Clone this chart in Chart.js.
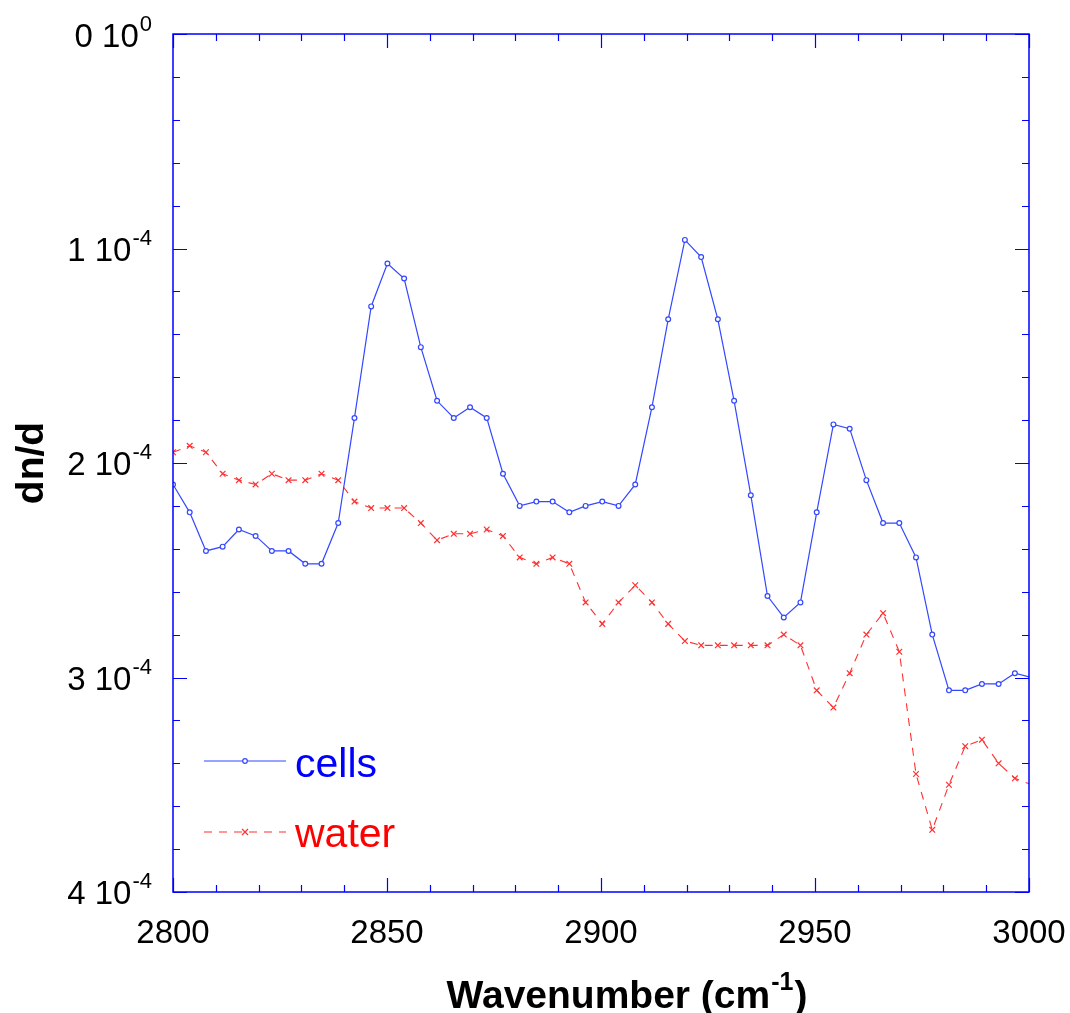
<!DOCTYPE html>
<html>
<head>
<meta charset="utf-8">
<script src="https://cdn.jsdelivr.net/npm/chart.js@4.4.1/dist/chart.umd.min.js"></script>
<style>
  html, body { margin: 0; padding: 0; background: #fff; }
  #graph { display: block; }
</style>
</head>
<body>
<canvas id="graph" width="1070" height="1013"></canvas>
<script>
// wavenumber (cm-1) of each sample
const wavenumbers = [2800.0, 2803.9, 2807.7, 2811.6, 2815.4, 2819.3, 2823.1, 2827.0, 2830.9, 2834.7,
  2838.6, 2842.4, 2846.3, 2850.1, 2854.0, 2857.9, 2861.7, 2865.6, 2869.4, 2873.3,
  2877.1, 2881.0, 2884.9, 2888.7, 2892.6, 2896.4, 2900.3, 2904.1, 2908.0, 2911.9,
  2915.7, 2919.6, 2923.4, 2927.3, 2931.1, 2935.0, 2938.9, 2942.7, 2946.6, 2950.4,
  2954.3, 2958.1, 2962.0, 2965.9, 2969.7, 2973.6, 2977.4, 2981.3, 2985.1, 2989.0,
  2992.9, 2996.7, 3000.6];

// dn/d values, in units of 1e-4
const cells = [2.10, 2.23, 2.41, 2.39, 2.31, 2.34, 2.41, 2.41, 2.47, 2.47,
  2.28, 1.79, 1.27, 1.07, 1.14, 1.46, 1.71, 1.79, 1.74, 1.79,
  2.05, 2.20, 2.18, 2.18, 2.23, 2.20, 2.18, 2.20, 2.10, 1.74,
  1.33, 0.96, 1.04, 1.33, 1.71, 2.15, 2.62, 2.72, 2.65, 2.23,
  1.82, 1.84, 2.08, 2.28, 2.28, 2.44, 2.80, 3.06, 3.06, 3.03,
  3.03, 2.98, 3.00];

const water = [1.95, 1.92, 1.95, 2.05, 2.08, 2.10, 2.05, 2.08, 2.08, 2.05,
  2.08, 2.18, 2.21, 2.21, 2.21, 2.28, 2.36, 2.33, 2.33, 2.31,
  2.34, 2.44, 2.47, 2.44, 2.47, 2.65, 2.75, 2.65, 2.57, 2.65,
  2.75, 2.83, 2.85, 2.85, 2.85, 2.85, 2.85, 2.80, 2.85, 3.06,
  3.14, 2.98, 2.80, 2.70, 2.88, 3.45, 3.71, 3.50, 3.32, 3.29,
  3.40, 3.47, 3.50];

const xTicks = [2800, 2850, 2900, 2950, 3000];
const yTicks = [0, 1, 2, 3, 4];
const yTickLabels = [['0 10', '0'], ['1 10', '-4'], ['2 10', '-4'], ['3 10', '-4'], ['4 10', '-4']];

const FONT = '"Liberation Sans", Arial, Helvetica, sans-serif';
const BLUE = '#3347ff';
const RED = '#ff3030';

function pts(ys) {
  return ys.map((v, i) => ({ x: wavenumbers[i], y: v }));
}

// frame, inward ticks, labels, titles and legend
const decorations = {
  id: 'decorations',
  afterDatasetsDraw(chart) {
    const { ctx, chartArea: a, scales: { x, y } } = chart;
    ctx.save();
    ctx.strokeStyle = '#0000ff';
    ctx.lineWidth = 1.5;
    ctx.strokeRect(a.left, a.top, a.right - a.left, a.bottom - a.top);

    ctx.lineWidth = 1.2;
    ctx.beginPath();
    for (let k = 0; k <= 20; k++) {
      const px = Math.round(x.getPixelForValue(2800 + k * 10)) + 0.5;
      const len = k % 5 === 0 ? 14 : 7;
      ctx.moveTo(px, a.bottom); ctx.lineTo(px, a.bottom - len);
      ctx.moveTo(px, a.top); ctx.lineTo(px, a.top + len);
    }
    for (let k = 0; k <= 20; k++) {
      const py = Math.round(y.getPixelForValue(k * 0.2)) + 0.5;
      const len = k % 5 === 0 ? 14 : 7;
      ctx.moveTo(a.left, py); ctx.lineTo(a.left + len, py);
      ctx.moveTo(a.right, py); ctx.lineTo(a.right - len, py);
    }
    ctx.stroke();

    // tick labels
    ctx.fillStyle = '#000';
    ctx.textBaseline = 'alphabetic';
    ctx.font = '33px ' + FONT;
    ctx.textAlign = 'center';
    xTicks.forEach(v => ctx.fillText(String(v), x.getPixelForValue(v), a.bottom + 51));

    ctx.textAlign = 'left';
    yTicks.forEach((v, i) => {
      const py = y.getPixelForValue(v);
      const [main, sup] = yTickLabels[i];
      ctx.font = '33px ' + FONT;
      const wm = ctx.measureText(main).width;
      ctx.font = '22px ' + FONT;
      const ws = ctx.measureText(sup).width;
      const right = 152;
      const shift = i === 0 ? 1 : 0;
      ctx.font = '33px ' + FONT;
      ctx.fillText(main, right - ws - wm - 1, py + 12 + shift);
      ctx.font = '22px ' + FONT;
      ctx.fillText(sup, right - ws, py - 4 + shift);
    });

    // x title with superscript
    const t1 = 'Wavenumber (cm', t2 = '-1', t3 = ')';
    ctx.font = 'bold 39px ' + FONT;
    const w1 = ctx.measureText(t1).width, w3 = ctx.measureText(t3).width;
    ctx.font = 'bold 25px ' + FONT;
    const w2 = ctx.measureText(t2).width;
    let tx = 627 - (w1 + w2 + w3 + 2) / 2;
    ctx.font = 'bold 39px ' + FONT;
    ctx.fillText(t1, tx, 1008);
    ctx.font = 'bold 25px ' + FONT;
    ctx.fillText(t2, tx + w1 + 1, 990);
    ctx.font = 'bold 39px ' + FONT;
    ctx.fillText(t3, tx + w1 + w2 + 2, 1008);

    // y title
    ctx.save();
    ctx.translate(43, (a.top + a.bottom) / 2);
    ctx.rotate(-Math.PI / 2);
    ctx.textAlign = 'center';
    ctx.font = 'bold 39px ' + FONT;
    ctx.fillText('dn/d', 0, 0);
    ctx.restore();

    // legend
    ctx.lineWidth = 1.2;
    ctx.strokeStyle = BLUE;
    ctx.beginPath(); ctx.moveTo(204, 761); ctx.lineTo(286, 761); ctx.stroke();
    ctx.fillStyle = '#fff';
    ctx.beginPath(); ctx.arc(245, 761, 2.3, 0, Math.PI * 2); ctx.fill(); ctx.stroke();
    ctx.strokeStyle = RED;
    ctx.setLineDash([8, 7]);
    ctx.beginPath(); ctx.moveTo(204, 832); ctx.lineTo(286, 832); ctx.stroke();
    ctx.setLineDash([]);
    ctx.beginPath();
    ctx.moveTo(242, 829); ctx.lineTo(248, 835);
    ctx.moveTo(248, 829); ctx.lineTo(242, 835);
    ctx.stroke();
    ctx.font = '41px ' + FONT;
    ctx.textAlign = 'left';
    ctx.fillStyle = '#0000ff';
    ctx.fillText('cells', 295, 777);
    ctx.fillStyle = '#ff0000';
    ctx.fillText('water', 295, 847);
    ctx.restore();
  }
};

const config = {
  type: 'line',
  data: {
    datasets: [
      {
        label: 'cells',
        data: pts(cells),
        borderColor: BLUE,
        borderWidth: 1.2,
        backgroundColor: '#fff',
        pointStyle: 'circle',
        pointRadius: c => (c.raw && c.raw.x > 3000 ? 0 : 2.4),
        pointBorderColor: BLUE,
        pointBackgroundColor: '#fff',
        pointBorderWidth: 1.2,
        tension: 0,
        fill: false
      },
      {
        label: 'water',
        data: pts(water),
        borderColor: RED,
        borderWidth: 1.1,
        borderDash: [8, 7],
        pointStyle: 'crossRot',
        pointRadius: c => (c.raw && c.raw.x > 3000 ? 0 : 4),
        pointBorderColor: RED,
        pointBorderWidth: 1.2,
        tension: 0,
        fill: false
      }
    ]
  },
  options: {
    responsive: false,
    animation: false,
    devicePixelRatio: 1,
    layout: { padding: { left: 173, right: 41, top: 34, bottom: 121 } },
    scales: {
      x: { type: 'linear', min: 2800, max: 3000, display: false },
      y: { type: 'linear', min: 0, max: 4, reverse: true, display: false }
    },
    plugins: { legend: { display: false }, tooltip: { enabled: false } }
  },
  plugins: [decorations]
};

const graph = document.querySelector('#graph');
new Chart(graph, config);
</script>
</body>
</html>
